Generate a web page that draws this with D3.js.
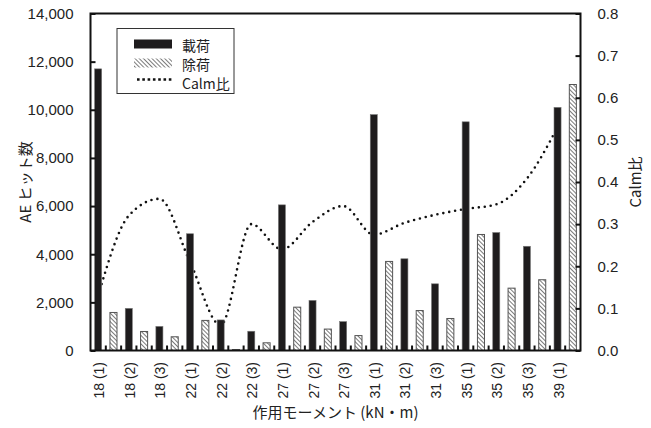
<!DOCTYPE html>
<html>
<head>
<meta charset="utf-8">
<script src="https://cdn.jsdelivr.net/npm/d3@7/dist/d3.min.js"></script>
<style>
  html, body { margin: 0; padding: 0; background: #fff; }
  svg { display: block; }
  text { font-family: "Liberation Sans", Arial, "Noto Sans CJK JP", sans-serif; fill: #222; }
  .jp { font-family: "Noto Sans CJK JP", "Liberation Sans", sans-serif; }
</style>
</head>
<body>
<svg id="chart" width="651" height="428"></svg>
<script>
// Moment step labels (kN·m with load step number)
const categories = ["18 (1)", "18 (2)", "18 (3)", "22 (1)", "22 (2)", "22 (3)",
                    "27 (1)", "27 (2)", "27 (3)", "31 (1)", "31 (2)", "31 (3)",
                    "35 (1)", "35 (2)", "35 (3)", "39 (1)"];
// AE hit counts while loading
const loadingHits = [11700, 1750, 1000, 4850, 1270, 800,
                     6050, 2080, 1200, 9800, 3810, 2770,
                     9500, 4900, 4330, 10100];
// AE hit counts while unloading
const unloadingHits = [1580, 790, 570, 1250, 40, 320,
                       1800, 890, 620, 3700, 1660, 1330,
                       4820, 2590, 2940, 11050];
// Calm ratio
const calmRatio = [0.13, 0.32, 0.36, 0.21, 0.06, 0.30,
                   0.24, 0.305, 0.343, 0.275, 0.303, 0.322,
                   0.336, 0.347, 0.408, 0.53];
const leftTicks = [0, 2000, 4000, 6000, 8000, 10000, 12000, 14000];
const rightTicks = [0, 0.1, 0.2, 0.3, 0.4, 0.5, 0.6, 0.7, 0.8];
const seriesNames = ["載荷", "除荷", "Calm比"];

const svg = d3.select("#chart");
const L = 90.5, R = 580.5, T = 13.5, B = 350.5;

const x = d3.scaleBand().domain(categories).range([L, R]).padding(0);
const xs = d3.scaleBand().domain(["load", "unload"]).range([0, x.bandwidth()])
  .paddingInner(0.54).paddingOuter(0.27);
const y = d3.scaleLinear().domain([0, 14000]).range([B, T]);
const y2 = d3.scaleLinear().domain([0, 0.8]).range([B, T]);

// hatch pattern for unloading bars (lines running down to the right)
const defs = svg.append("defs");
const pat = defs.append("pattern").attr("id", "hatch")
  .attr("patternUnits", "userSpaceOnUse").attr("width", 3).attr("height", 3)
  .attr("patternTransform", "rotate(-45)");
pat.append("rect").attr("width", 3).attr("height", 3).attr("fill", "#fff");
pat.append("line").attr("x1", 0).attr("y1", 0).attr("x2", 0).attr("y2", 3)
  .attr("stroke", "#333").attr("stroke-width", 1.3);

// Calm ratio line, smoothed, behind the bars
const line = d3.line()
  .x((d, i) => x(categories[i]) + xs("load") + xs.bandwidth() / 2)
  .y(d => y2(d))
  .curve(d3.curveMonotoneX);
svg.append("path").datum(calmRatio)
  .attr("d", line)
  .attr("fill", "none").attr("stroke", "#111")
  .attr("stroke-width", 2.6).attr("stroke-linecap", "round")
  .attr("stroke-dasharray", "0 6");

// loading bars
svg.append("g").selectAll("rect").data(loadingHits).join("rect")
  .attr("x", (d, i) => x(categories[i]) + xs("load"))
  .attr("y", d => y(d))
  .attr("width", xs.bandwidth())
  .attr("height", d => B - y(d))
  .attr("fill", "#1e1c1d").attr("stroke", "#777").attr("stroke-width", 0.6);

// unloading bars
svg.append("g").selectAll("rect").data(unloadingHits).join("rect")
  .attr("x", (d, i) => x(categories[i]) + xs("unload"))
  .attr("y", d => y(d))
  .attr("width", xs.bandwidth())
  .attr("height", d => B - y(d))
  .attr("fill", "url(#hatch)").attr("stroke", "#555").attr("stroke-width", 1);

// frame
svg.append("rect").attr("x", L).attr("y", T).attr("width", R - L).attr("height", B - T)
  .attr("fill", "none").attr("stroke", "#111").attr("stroke-width", 2);

// left axis
const gl = svg.append("g").attr("transform", `translate(${L},0)`)
  .call(d3.axisLeft(y).tickValues(leftTicks).tickSizeInner(-5).tickSizeOuter(0)
    .tickPadding(17).tickFormat(d3.format(",")));
gl.select(".domain").remove();
gl.selectAll("line").attr("stroke", "#111").attr("stroke-width", 2);
gl.selectAll("text").attr("font-size", 15).attr("fill", "#222")
  .attr("font-family", "Liberation Sans, Arial, sans-serif");

// right axis
const gr = svg.append("g").attr("transform", `translate(${R},0)`)
  .call(d3.axisRight(y2).tickValues(rightTicks).tickSizeInner(-5).tickSizeOuter(0)
    .tickPadding(17).tickFormat(d3.format(".1f")));
gr.select(".domain").remove();
gr.selectAll("line").attr("stroke", "#111").attr("stroke-width", 2);
gr.selectAll("text").attr("font-size", 15).attr("fill", "#222")
  .attr("font-family", "Liberation Sans, Arial, sans-serif");

// bottom ticks at each bar slot boundary
const slotEdges = [];
categories.forEach((c, i) => {
  if (i > 0) slotEdges.push(x(c));
  slotEdges.push(x(c) + x.bandwidth() / 2);
});
svg.append("g").selectAll("line").data(slotEdges).join("line")
  .attr("x1", d => d).attr("x2", d => d)
  .attr("y1", B).attr("y2", B - 5)
  .attr("stroke", "#111").attr("stroke-width", 2);

// category labels, rotated
svg.append("g").selectAll("text").data(categories).join("text")
  .attr("transform", c => `translate(${x(c) + xs("load") + xs.bandwidth() / 2 + 1},362) rotate(-90)`)
  .attr("text-anchor", "end").attr("dominant-baseline", "central")
  .attr("font-size", 14)
  .text(d => d);

// axis titles
svg.append("text").attr("class", "jp")
  .attr("x", (L + R) / 2).attr("y", 418)
  .attr("text-anchor", "middle").attr("font-size", 15)
  .text("作用モーメント (kN・m)");
svg.append("text").attr("class", "jp")
  .attr("transform", `translate(24,${(T + B) / 2}) rotate(-90)`)
  .attr("text-anchor", "middle").attr("dominant-baseline", "central")
  .attr("font-size", 15)
  .text("AE ヒット数");
svg.append("text").attr("class", "jp")
  .attr("transform", `translate(634,${(T + B) / 2}) rotate(-90)`)
  .attr("text-anchor", "middle").attr("dominant-baseline", "central")
  .attr("font-size", 15)
  .text("Calm比");

// legend
const lg = svg.append("g").attr("transform", "translate(117,28.5)");
lg.append("rect").attr("width", 117).attr("height", 65)
  .attr("fill", "#fff").attr("stroke", "#333").attr("stroke-width", 1);
lg.append("rect").attr("x", 17).attr("y", 11).attr("width", 38).attr("height", 9)
  .attr("fill", "#1e1c1d");
lg.append("rect").attr("x", 17).attr("y", 30).attr("width", 38).attr("height", 9)
  .attr("fill", "url(#hatch)");
lg.append("line").attr("x1", 20).attr("x2", 56).attr("y1", 51).attr("y2", 51)
  .attr("stroke", "#111").attr("stroke-width", 2.6)
  .attr("stroke-dasharray", "2.6 2.7");
lg.selectAll("text.lbl").data(seriesNames).join("text").attr("class", "lbl jp")
  .attr("x", 65).attr("y", (d, i) => 16 + i * 19)
  .attr("dominant-baseline", "central").attr("font-size", 14)
  .text(d => d);
</script>
</body>
</html>
